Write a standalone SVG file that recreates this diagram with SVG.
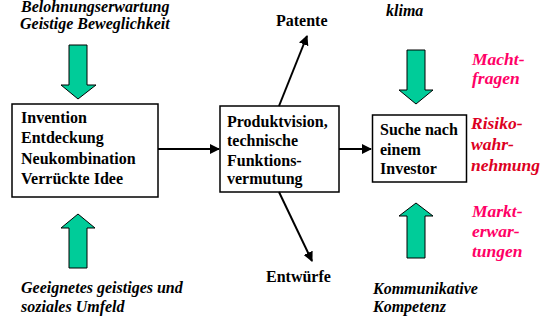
<svg xmlns="http://www.w3.org/2000/svg" width="558" height="320" viewBox="0 0 558 320" font-family="'Liberation Serif', 'Times New Roman', Times, serif">
  <style>
    text { font-family: "Liberation Serif", "Times New Roman", Times, serif; font-weight: bold; font-size: 16px; fill: #000; }
    .it { font-style: italic; }
    .red { font-style: italic; font-size: 17.5px; fill: #dd0022; }
    .pink { font-style: italic; font-size: 17.5px; fill: #ff0066; }
    .box { fill: #fff; stroke: #000; stroke-width: 1.5; }
    .big { fill: #00cc99; stroke: #000; stroke-width: 1; }
    .conn { stroke: #000; stroke-width: 2; fill: none; marker-end: url(#head); }
  </style>
  <defs>
    <marker id="head" viewBox="0 0 10 10" refX="9" refY="5" markerWidth="5" markerHeight="5" orient="auto" markerUnits="strokeWidth">
      <path d="M0,0 L10,5 L0,10 Z" fill="#000"/>
    </marker>
  </defs>
  <rect width="558" height="320" fill="#fff"/>

  <!-- influences at top and bottom -->
  <g id="influence-top-left">
    <text class="it" x="21" y="12">Belohnungserwartung</text>
    <text class="it" x="20" y="29">Geistige Beweglichkeit</text>
    <polygon class="big" points="69,45 87,45 87,85 96,85 78,99 61,85 69,85"/>
  </g>
  <g id="influence-bottom-left">
    <polygon class="big" points="78,214 95,228 87,228 87,268 69,268 69,228 61,228"/>
    <text class="it" x="21" y="293">Geeignetes geistiges und</text>
    <text class="it" x="21" y="312">soziales Umfeld</text>
  </g>
  <g id="influence-top-right">
    <text class="it" x="386" y="16">klima</text>
    <polygon class="big" points="407,50 425,50 425,90 433,90 416,104 399,90 407,90"/>
  </g>
  <g id="influence-bottom-right">
    <polygon class="big" points="416,203 433,216 425,216 425,258 407,258 407,216 399,216"/>
    <text class="it" x="373" y="294">Kommunikative</text>
    <text class="it" x="373" y="312">Kompetenz</text>
  </g>

  <!-- main process boxes -->
  <g id="invention">
    <rect class="box" x="12" y="104" width="146" height="93"/>
    <text x="21" y="123">Invention</text>
    <text x="21" y="143">Entdeckung</text>
    <text x="21" y="163.5">Neukombination</text>
    <text x="21" y="183.5">Verrückte Idee</text>
  </g>
  <g id="produktvision">
    <rect class="box" x="220" y="106" width="119" height="86"/>
    <text x="227" y="127">Produktvision,</text>
    <text x="227" y="146">technische</text>
    <text x="227" y="166">Funktions-</text>
    <text x="227" y="184">vermutung</text>
  </g>
  <g id="investor">
    <rect class="box" x="372.5" y="115" width="94" height="67"/>
    <text x="380" y="135">Suche nach</text>
    <text x="380" y="155">einem</text>
    <text x="380" y="174">Investor</text>
  </g>

  <!-- outputs and side notes -->
  <g id="patente"><text x="276" y="26">Patente</text></g>
  <g id="entwuerfe"><text x="266" y="282">Entwürfe</text></g>
  <g id="machtfragen">
    <text class="pink" x="472" y="65">Macht-</text>
    <text class="pink" x="472" y="84">fragen</text>
  </g>
  <g id="risikowahrnehmung">
    <text class="red" x="471" y="129">Risiko-</text>
    <text class="red" x="471" y="150">wahr-</text>
    <text class="red" x="471" y="171">nehmung</text>
  </g>
  <g id="markterwartungen">
    <text class="pink" x="472" y="217">Markt-</text>
    <text class="pink" x="472" y="237">erwar-</text>
    <text class="pink" x="472" y="257">tungen</text>
  </g>

  <!-- connectors -->
  <g id="connectors">
    <line class="conn" x1="158" y1="149" x2="219" y2="149"/>
    <line class="conn" x1="339" y1="149" x2="371" y2="149"/>
    <line class="conn" x1="279" y1="106" x2="307" y2="36"/>
    <line class="conn" x1="279" y1="192" x2="312" y2="261"/>
  </g>
</svg>
